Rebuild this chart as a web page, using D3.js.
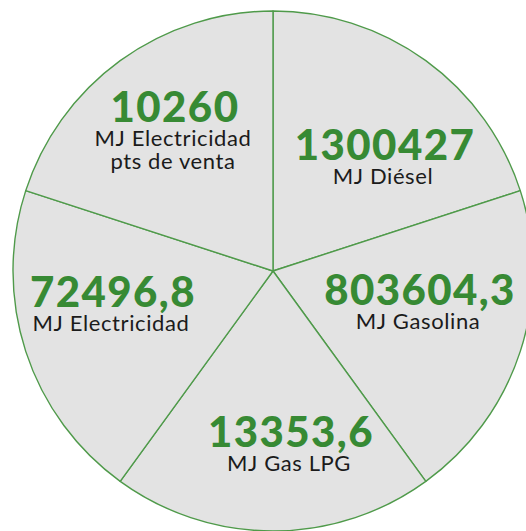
<!DOCTYPE html>
<html>
<head>
<meta charset="utf-8">
<script src="https://cdn.jsdelivr.net/npm/d3@7"></script>
<style>
  html, body { margin: 0; padding: 0; background: #ffffff; }
  svg { display: block; }
</style>
</head>
<body>
<svg id="chart" width="526" height="531"></svg>
<script>
// Energy use by source, in MJ (each source gets an equal wedge)
const categories = ["MJ Diésel", "MJ Gasolina", "MJ Gas LPG", "MJ Electricidad", "MJ Electricidad\npts de venta"];
const valueLabels = ["1300427", "803604,3", "13353,6", "72496,8", "10260"];
const values = [1300427, 803604.3, 13353.6, 72496.8, 10260];

// Label anchors (number baseline) relative to the pie centre
const labelOffsets = [[112, -111], [147, 34], [18, 176], [-160, 36], [-98, -149]];

const width = 526, height = 531;
const cx = 273, cy = 271, radius = 260;

const svg = d3.select("#chart");
const g = svg.append("g").attr("transform", `translate(${cx},${cy})`);

const pie = d3.pie().sort(null).value(() => 1);
const arc = d3.arc().innerRadius(0).outerRadius(radius);

const slices = pie(values.map((v, i) => ({ value: v, name: categories[i], label: valueLabels[i], i })));

g.selectAll("path.slice")
  .data(slices)
  .join("path")
  .attr("class", "slice")
  .attr("d", arc)
  .attr("fill", "#e3e3e3")
  .attr("stroke", "#4f9a4a")
  .attr("stroke-width", 1.4)
  .attr("stroke-linejoin", "round");

const labels = g.selectAll("g.label")
  .data(slices)
  .join("g")
  .attr("class", "label")
  .attr("transform", d => `translate(${labelOffsets[d.data.i][0]},${labelOffsets[d.data.i][1]})`);

labels.append("text")
  .attr("text-anchor", "middle")
  .attr("font-family", "Lato, 'Open Sans', sans-serif")
  .attr("font-weight", 900)
  .attr("font-size", 42)
  .attr("letter-spacing", 1.4)
  .attr("fill", "#378a34")
  .text(d => d.data.label);

labels.each(function(d) {
  const lines = d.data.name.split("\n");
  const t = d3.select(this).append("text")
    .attr("text-anchor", "middle")
    .attr("font-family", "Lato, 'Open Sans', sans-serif")
    .attr("font-size", 22)
    .attr("letter-spacing", 0.6)
    .attr("fill", "#1b1b1b");
  lines.forEach((line, k) => {
    t.append("tspan")
      .attr("x", -2)
      .attr("y", 24 + k * 23)
      .text(line);
  });
});
</script>
</body>
</html>
